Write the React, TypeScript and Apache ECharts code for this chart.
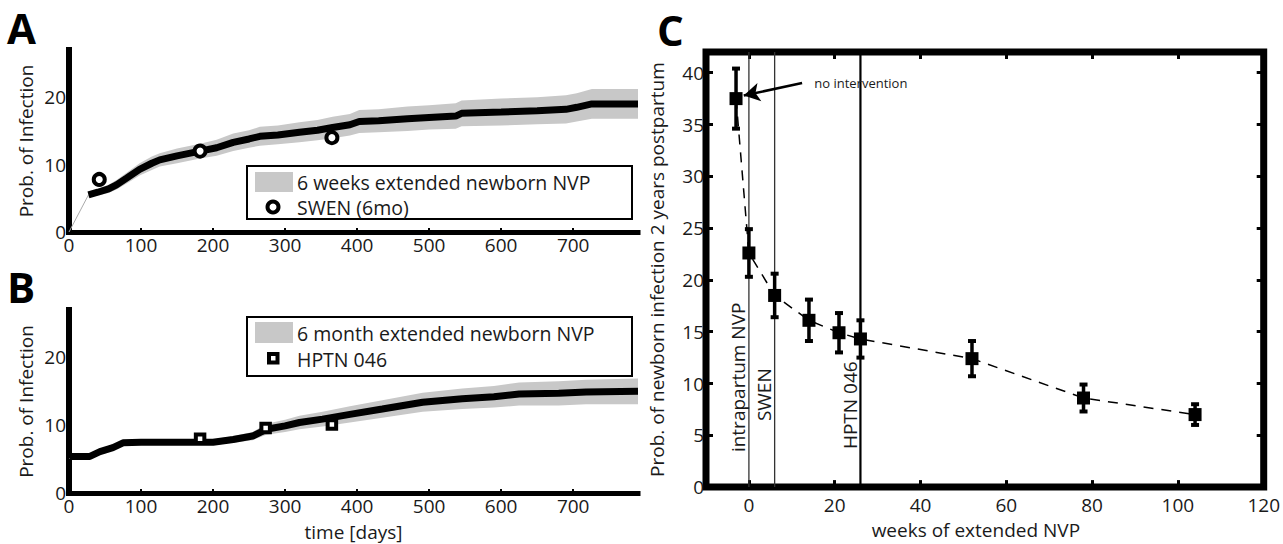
import React, { useEffect, useRef } from 'react';
import * as echarts from 'echarts';

const FONT = '"Open Sans", "Noto Sans", sans-serif';
const INK = '#1a1a1a';
const BAND = '#c8c8c8';

// Panel A: 6 weeks extended newborn NVP (days, % infected, CI half-width)
const aDays = [27, 40, 55, 66, 80, 98, 115, 126, 150, 182, 205, 228, 250, 265, 290, 320, 345, 366, 390, 403, 430, 470, 500, 537, 545, 600, 650, 690, 705, 726, 760, 790];
const aProb = [5.5, 5.9, 6.4, 7.0, 8.0, 9.3, 10.2, 10.7, 11.3, 12.0, 12.5, 13.3, 13.8, 14.2, 14.4, 14.8, 15.1, 15.5, 15.9, 16.4, 16.5, 16.8, 17.0, 17.2, 17.6, 17.8, 18.0, 18.2, 18.5, 19.0, 19.0, 19.0];
const aSpread = [0.4, 0.5, 0.6, 0.7, 0.8, 0.9, 1.0, 1.0, 1.1, 1.1, 1.2, 1.3, 1.3, 1.4, 1.4, 1.5, 1.5, 1.6, 1.6, 1.7, 1.7, 1.8, 1.8, 1.9, 1.9, 2.0, 2.0, 2.1, 2.1, 2.2, 2.2, 2.2];
const aSwenDays = [42, 182, 365];
const aSwenProb = [7.8, 12.0, 14.0];

// Panel B: 6 month extended newborn NVP
const bDays = [0, 2, 29, 43, 61, 75, 100, 150, 200, 228, 255, 274, 300, 320, 352, 390, 435, 491, 546, 590, 625, 680, 718, 790];
const bProb = [5.2, 5.4, 5.4, 6.1, 6.7, 7.4, 7.5, 7.5, 7.5, 7.9, 8.4, 9.4, 9.9, 10.4, 10.9, 11.6, 12.4, 13.4, 13.9, 14.2, 14.6, 14.7, 14.9, 15.0];
const bSpread = [0.2, 0.2, 0.2, 0.3, 0.3, 0.3, 0.3, 0.4, 0.4, 0.5, 0.6, 0.8, 0.9, 1.0, 1.1, 1.2, 1.3, 1.4, 1.5, 1.6, 1.7, 1.8, 1.8, 1.9];
const bHptnDays = [182, 273, 365];
const bHptnProb = [8.0, 9.6, 10.1];

// Panel C: infection by 2 years vs weeks of extended NVP
const cWeeks = [-3, 0, 6, 14, 21, 26, 52, 78, 104];
const cProb = [37.5, 22.6, 18.5, 16.1, 14.9, 14.3, 12.4, 8.6, 7.0];
const cErr = [2.9, 2.3, 2.1, 2.0, 1.9, 1.8, 1.7, 1.3, 1.0];
const cRefWeeks = [0, 6, 26];
const cRefLabels = ['intrapartum NVP', 'SWEN', 'HPTN 046'];

const dayTicks = [0, 100, 200, 300, 400, 500, 600, 700];
const probTicks = [0, 10, 20];
const weekTicks = [0, 20, 40, 60, 80, 100, 120];
const cProbTicks = [0, 5, 10, 15, 20, 25, 30, 35, 40];

// drawing styles for the reference lines in panel C
const refLineWidth = [1.3, 1.3, 2.2];
const refLabelLift = [35, 66, 38];

const tickLabel = { color: INK, fontSize: 19, fontFamily: FONT, lineHeight: 20 };

function bandSeries(days: number[], prob: number[], spread: number[], idx: number) {
  return {
    type: 'custom',
    xAxisIndex: idx,
    yAxisIndex: idx,
    silent: true,
    z: 1,
    data: [[days[0], prob[0]]],
    renderItem: (_p: any, api: any) => {
      const pts: number[][] = [];
      for (let i = 0; i < days.length; i++) pts.push(api.coord([days[i], prob[i] + spread[i]]));
      for (let i = days.length - 1; i >= 0; i--) pts.push(api.coord([days[i], Math.max(0, prob[i] - spread[i])]));
      return { type: 'polygon', shape: { points: pts }, style: { fill: BAND } };
    },
  };
}

function timeAxes(idx: number, withName: boolean) {
  const x: any = {
    type: 'value', gridIndex: idx, min: 0, max: 790,
    axisLine: { show: true, onZero: false, lineStyle: { color: '#000', width: 5, cap: 'square' } },
    axisTick: { show: true, inside: true, length: 4, customValues: dayTicks, lineStyle: { color: '#000', width: 2 } },
    axisLabel: { ...tickLabel, margin: 3, customValues: dayTicks },
    splitLine: { show: false },
  };
  if (withName) {
    x.name = 'time [days]';
    x.nameLocation = 'middle';
    x.nameGap = 30;
    x.nameTextStyle = { ...tickLabel, lineHeight: 18 };
  }
  const y: any = {
    type: 'value', gridIndex: idx, min: 0, max: 27,
    axisLine: { show: true, onZero: false, lineStyle: { color: '#000', width: 6, cap: 'square' } },
    axisTick: { show: true, inside: false, length: 3, customValues: probTicks, lineStyle: { color: '#000', width: 3 } },
    axisLabel: { ...tickLabel, margin: 3, customValues: probTicks },
    splitLine: { show: false },
    name: 'Prob. of Infection',
    nameLocation: 'middle',
    nameGap: 33,
    nameTextStyle: { ...tickLabel },
  };
  return { x, y };
}

function boxAxis(kind: 'x' | 'y', position: string, withLabels: boolean) {
  const isX = kind === 'x';
  const ticks = isX ? weekTicks : cProbTicks;
  return {
    type: 'value', gridIndex: 2, position,
    min: isX ? -10 : 0, max: isX ? 120 : 42,
    axisLine: { show: false, onZero: false },
    axisTick: { show: true, inside: true, length: 7, customValues: ticks, lineStyle: { color: '#000', width: 3 } },
    axisLabel: withLabels ? { ...tickLabel, margin: isX ? 8 : 2, customValues: ticks } : { show: false },
    splitLine: { show: false },
  } as any;
}

export default function App() {
  const ref = useRef<HTMLDivElement>(null);

  useEffect(() => {
    if (!ref.current) return;
    const chart = echarts.init(ref.current, null, { renderer: 'svg' });
    const a = timeAxes(0, false);
    const b = timeAxes(1, true);

    const cX = boxAxis('x', 'bottom', true);
    cX.name = 'weeks of extended NVP';
    cX.nameLocation = 'middle';
    cX.nameGap = 31;
    cX.nameTextStyle = { ...tickLabel, lineHeight: 18, padding: [0, 18, 0, 0] };
    const cXTop = boxAxis('x', 'top', false);
    const cY = boxAxis('y', 'left', true);
    cY.name = 'Prob. of newborn infection 2 years postpartum';
    cY.nameLocation = 'middle';
    cY.nameGap = 39;
    cY.nameTextStyle = { ...tickLabel };
    const cYRight = boxAxis('y', 'right', false);

    const legendBox = (top: number, h: number) => ({
      type: 'rect', shape: { x: 247, y: top, width: 385, height: h },
      style: { fill: '#fff', stroke: '#000', lineWidth: 2 }, z: 50,
    });
    const legendText = (x: number, y: number, text: string) => ({
      type: 'text', x, y, z: 51,
      style: { text, fill: INK, fontSize: 19.5, fontFamily: FONT, align: 'left', verticalAlign: 'middle', lineHeight: 20 },
    });
    const panelLetter = (x: number, y: number, text: string) => ({
      type: 'text', x, y,
      style: { text, fill: '#000', fontSize: 42, fontWeight: 'bold', fontFamily: FONT, align: 'left', verticalAlign: 'middle', lineHeight: 42 },
    });

    chart.setOption({
      animation: false,
      backgroundColor: '#fff',
      grid: [
        { left: 69, top: 50, width: 569, height: 182 },
        { left: 69, top: 310, width: 569, height: 183 },
        { left: 706, top: 52, width: 561, height: 441, show: true, borderWidth: 7, borderColor: '#000', backgroundColor: 'transparent' },
      ],
      xAxis: [a.x, b.x, cX, cXTop],
      yAxis: [a.y, b.y, cY, cYRight],
      series: [
        // panel A
        bandSeries(aDays, aProb, aSpread, 0),
        {
          type: 'line', xAxisIndex: 0, yAxisIndex: 0, symbol: 'none', z: 2,
          lineStyle: { color: '#aaa', width: 1 },
          data: [[0, 0], [aDays[0], aProb[0]]],
        },
        {
          type: 'line', xAxisIndex: 0, yAxisIndex: 0, symbol: 'none', z: 3,
          lineStyle: { color: '#000', width: 7 },
          data: aDays.map((d, i) => [d, aProb[i]]),
        },
        {
          type: 'scatter', xAxisIndex: 0, yAxisIndex: 0, symbol: 'circle', symbolSize: 11, z: 4,
          itemStyle: { color: '#fff', borderColor: '#000', borderWidth: 4, opacity: 1 },
          data: aSwenDays.map((d, i) => [d, aSwenProb[i]]),
        },
        // panel B
        bandSeries(bDays, bProb, bSpread, 1),
        {
          type: 'line', xAxisIndex: 1, yAxisIndex: 1, symbol: 'none', z: 3,
          lineStyle: { color: '#000', width: 7 },
          data: bDays.map((d, i) => [d, bProb[i]]),
        },
        {
          type: 'scatter', xAxisIndex: 1, yAxisIndex: 1, symbol: 'rect', symbolSize: 8.5, z: 4,
          itemStyle: { color: '#fff', borderColor: '#000', borderWidth: 4, opacity: 1 },
          data: bHptnDays.map((d, i) => [d, bHptnProb[i]]),
        },
        // panel C: reference trial lines with rotated labels
        {
          type: 'custom', xAxisIndex: 2, yAxisIndex: 2, silent: true, z: 1,
          data: cRefWeeks.map((w, i) => [w, i]),
          renderItem: (params: any, api: any) => {
            const i = params.dataIndex;
            const w = api.value(0);
            const top = api.coord([w, 42]);
            const bot = api.coord([w, 0]);
            return {
              type: 'group',
              children: [
                { type: 'line', shape: { x1: top[0], y1: top[1], x2: bot[0], y2: bot[1] }, style: { stroke: i === 2 ? '#000' : '#333', lineWidth: refLineWidth[i] } },
                {
                  type: 'text', x: bot[0] - 1, y: bot[1] - refLabelLift[i], rotation: Math.PI / 2,
                  style: { text: cRefLabels[i], fill: INK, fontSize: 19, fontFamily: FONT, align: 'left', verticalAlign: 'bottom' },
                },
              ],
            };
          },
        },
        // panel C: error bars
        {
          type: 'custom', xAxisIndex: 2, yAxisIndex: 2, silent: true, z: 3,
          encode: { x: 0, y: 1 },
          data: cWeeks.map((w, i) => [w, cProb[i], cErr[i]]),
          renderItem: (_p: any, api: any) => {
            const x = api.value(0), y = api.value(1), e = api.value(2);
            const t = api.coord([x, y + e]);
            const b2 = api.coord([x, y - e]);
            const cap = 4;
            const s = { stroke: '#000', lineWidth: 4 };
            return {
              type: 'group',
              children: [
                { type: 'line', shape: { x1: t[0], y1: t[1], x2: b2[0], y2: b2[1] }, style: { stroke: '#000', lineWidth: 3.5 } },
                { type: 'line', shape: { x1: t[0] - cap, y1: t[1], x2: t[0] + cap, y2: t[1] }, style: s },
                { type: 'line', shape: { x1: b2[0] - cap, y1: b2[1], x2: b2[0] + cap, y2: b2[1] }, style: s },
              ],
            };
          },
        },
        // panel C: estimates, dashed connection, annotation arrow
        {
          type: 'line', xAxisIndex: 2, yAxisIndex: 2, z: 4,
          symbol: 'rect', symbolSize: 13, showAllSymbol: true,
          itemStyle: { color: '#000' },
          lineStyle: { color: '#000', width: 1.5, type: [10, 8] },
          data: cWeeks.map((w, i) => [w, cProb[i]]),
          markLine: {
            silent: true, symbol: ['none', 'arrow'], symbolSize: [14, 16],
            lineStyle: { color: '#000', width: 2.5, type: 'solid' },
            label: { show: false },
            data: [[{ coord: [12.4, 39.0] }, { coord: [-1.2, 37.8] }]],
          },
          markPoint: {
            silent: true, symbol: 'circle', symbolSize: 0,
            label: { show: true, position: 'right', distance: 4, formatter: 'no intervention', color: INK, fontSize: 13, fontFamily: FONT },
            data: [{ coord: [14.3, 39.0] }],
          },
        },
      ],
      graphic: [
        panelLetter(7, 27, 'A'),
        panelLetter(7, 286, 'B'),
        panelLetter(657, 29, 'C'),
        legendBox(166, 53),
        { type: 'rect', shape: { x: 255, y: 172, width: 38, height: 20 }, style: { fill: BAND }, z: 51 },
        legendText(297, 182, '6 weeks extended newborn NVP'),
        { type: 'circle', shape: { cx: 273, cy: 207, r: 5.5 }, style: { fill: '#fff', stroke: '#000', lineWidth: 4 }, z: 51 },
        legendText(297, 207, 'SWEN (6mo)'),
        legendBox(317, 59),
        { type: 'rect', shape: { x: 255, y: 322, width: 38, height: 21 }, style: { fill: BAND }, z: 51 },
        legendText(297, 333, '6 month extended newborn NVP'),
        { type: 'rect', shape: { x: 269, y: 354, width: 8.5, height: 8.5 }, style: { fill: '#fff', stroke: '#000', lineWidth: 4 }, z: 51 },
        legendText(297, 359, 'HPTN 046'),
      ],
    });
    return () => chart.dispose();
  }, []);

  return <div ref={ref} style={{ position: 'absolute', left: 0, top: 0, width: 1283, height: 544, background: '#fff' }} />;
}
